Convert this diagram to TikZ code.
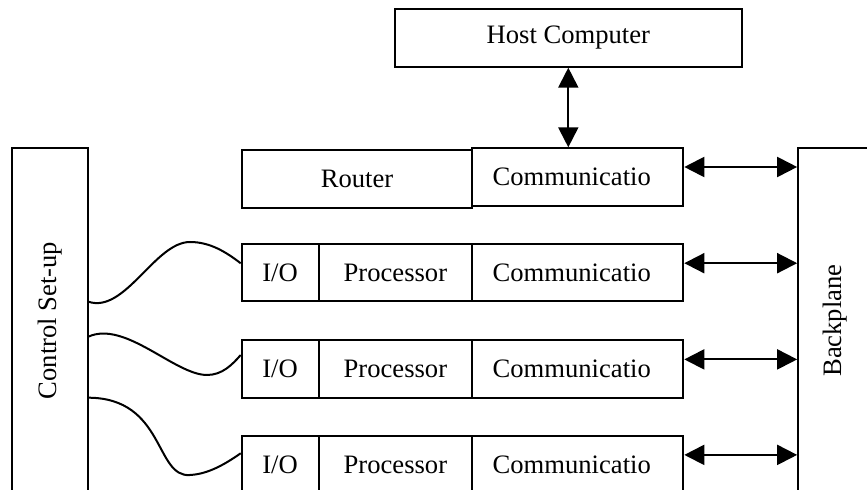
\documentclass[tikz,border=0pt]{standalone}
\usepackage{fontspec}
\setmainfont{Liberation Serif}
\usetikzlibrary{arrows.meta}
\begin{document}
\begin{tikzpicture}[x=0.5pt,y=-0.5pt,
  box/.style={draw, line width=1pt, rectangle, inner sep=0pt, font=\fontsize{13.3}{16}\selectfont, anchor=center},
  commbox/.style={box, minimum width=105.5pt, inner xsep=10.2pt, text width=85.1pt, align=left},
  dbl/.style={line width=1pt, {Triangle[length=10pt,width=10pt]}-{Triangle[length=10pt,width=10pt]}},
  wire/.style={line width=1pt}]
\useasboundingbox (0,0) rectangle (867,490);
\clip (0,0) rectangle (867,490);
% top
\node[box, minimum width=173.3pt, minimum height=28.7pt] (host) at (568.3,38) {Host Computer};
\node[box, minimum width=115.3pt, minimum height=28.8pt] (router) at (357,178.8) {Router};
\node[commbox, minimum height=28.7pt] (ct) at (577.8,177) {Communicatio};
% side boxes
\node[box, minimum width=38.3pt, minimum height=172.4pt] (ctl) at (50,320.6) {\rotatebox{90}{Control Set-up}};
\node[box, minimum width=36.85pt, minimum height=172.4pt] (bp) at (835,320.6) {\rotatebox{90}{Backplane}};
% rows
\foreach \i/\y in {1/272.8, 2/369, 3/464.5}{
  \node[box, minimum width=38.4pt, minimum height=28.6pt] (io\i) at (280.1,\y) {I/O};
  \node[box, minimum width=76.9pt, minimum height=28.6pt] (pr\i) at (395.4,\y) {Processor};
  \node[commbox, minimum height=28.6pt] (cm\i) at (577.8,\y) {Communicatio};
}
% arrows
\draw[dbl] (host.south) -- (host.south |- ct.north);
\coordinate (a0) at ([yshift=5pt]ct.east);
\draw[dbl] (a0) -- (a0 -| bp.west);
\foreach \i in {1,2,3}{
  \coordinate (a\i) at ([yshift=4.8pt]cm\i.east);
  \draw[dbl] (a\i) -- (a\i -| bp.west);
}
% wires
\coordinate (s1) at (88.3,301.7);
\coordinate (s2) at (88.3,336.7);
\coordinate (s3) at (88.3,397.7);
\coordinate (e1) at (io1.west |- 0,263.3);
\coordinate (e2) at (io2.west |- 0,355);
\coordinate (e3) at (io3.west |- 0,453.3);
\draw[wire] (s1) .. controls (125,314) and (155,242) .. (190,242)
  .. controls (210,242) and (226,252) .. (e1);
\draw[wire] (s2) .. controls (125,320) and (175,375) .. (207,375)
  .. controls (222,375) and (232,365) .. (e2);
\draw[wire] (s3) .. controls (165,398) and (155,478) .. (190,475)
  .. controls (210,474) and (228,462) .. (e3);
\end{tikzpicture}
\end{document}
